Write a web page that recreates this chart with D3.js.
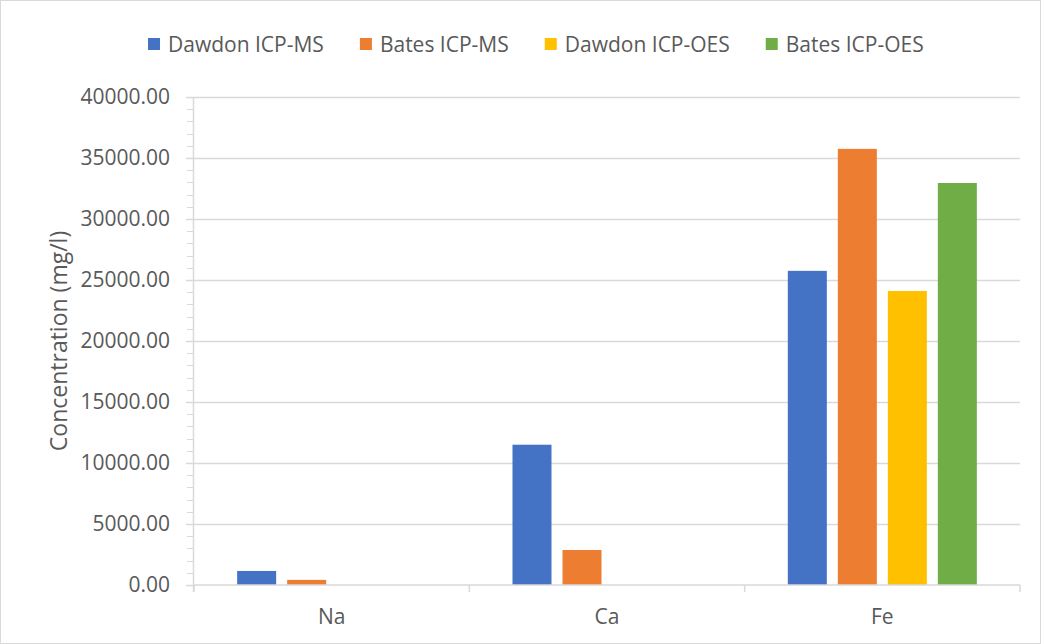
<!DOCTYPE html>
<html>
<head>
<meta charset="utf-8">
<script src="https://cdn.jsdelivr.net/npm/d3@7"></script>
<style>
  html, body { margin: 0; padding: 0; background: #fff; }
  svg { display: block; }
</style>
</head>
<body>
<div id="chart"></div>
<script>
const categories = ['Na', 'Ca', 'Fe'];
const seriesNames = ['Dawdon ICP-MS', 'Bates ICP-MS', 'Dawdon ICP-OES', 'Bates ICP-OES'];
const seriesColors = ['#4472c4', '#ed7d31', '#ffc000', '#70ad47'];
const dawdonMS = [1150, 11500, 25750];
const batesMS = [420, 2870, 35750];
const dawdonOES = [0, 0, 24100];
const batesOES = [0, 0, 32950];
const yTicks = [0, 5000, 10000, 15000, 20000, 25000, 30000, 35000, 40000];

const W = 1041, H = 644;
const M = { top: 97, right: 21, bottom: 59, left: 194 };
const FONT = '"Open Sans", sans-serif';
const TEXT = '#595959';
const GRID = '#d9d9d9';

const series = [dawdonMS, batesMS, dawdonOES, batesOES];

const svg = d3.select('#chart').append('svg')
  .attr('width', W).attr('height', H)
  .style('font-family', FONT);

svg.append('rect')
  .attr('x', 0.5).attr('y', 0.5).attr('width', W - 1).attr('height', H - 1)
  .attr('fill', '#fff').attr('stroke', '#d9d9d9');

const innerW = W - M.left - M.right;
const innerH = H - M.top - M.bottom;
const g = svg.append('g').attr('transform', `translate(${M.left},${M.top})`);

const y = d3.scaleLinear().domain([0, 40000]).range([innerH, 0]);
const x0 = d3.scaleBand().domain(categories).range([0, innerW]);
const x1 = d3.scaleBand().domain(d3.range(seriesNames.length))
  .range([0, x0.bandwidth()]).paddingInner(0.22).paddingOuter(0.863);

// gridlines
g.append('g').selectAll('line').data(yTicks.slice(1)).join('line')
  .attr('x1', 0).attr('x2', innerW)
  .attr('y1', d => Math.round(y(d)) + 0.5).attr('y2', d => Math.round(y(d)) + 0.5)
  .attr('stroke', GRID).attr('stroke-width', 1.5);

// minor ticks on y axis
const minor = d3.range(0, 40001, 1000).filter(v => v % 5000 !== 0);
g.append('g').selectAll('line').data(minor).join('line')
  .attr('x1', -7).attr('x2', 0)
  .attr('y1', d => Math.round(y(d)) + 0.5).attr('y2', d => Math.round(y(d)) + 0.5)
  .attr('stroke', GRID).attr('stroke-width', 1);

// y axis
const yAxis = g.append('g')
  .call(d3.axisLeft(y).tickValues(yTicks).tickFormat(d3.format('.2f')).tickSize(8).tickPadding(16));
yAxis.select('.domain').attr('stroke', GRID).attr('stroke-width', 1.5).attr('d', `M-0.5,${innerH + 7}V0`);
yAxis.selectAll('.tick line').attr('stroke', GRID).attr('stroke-width', 1.5);
yAxis.selectAll('.tick text').attr('fill', TEXT).style('font-size', '21px').style('font-family', FONT);

// bars
categories.forEach((c, ci) => {
  series.forEach((s, si) => {
    if (!s[ci]) return;
    g.append('rect')
      .attr('x', x0(c) + x1(si))
      .attr('y', y(s[ci]))
      .attr('width', x1.bandwidth())
      .attr('height', innerH - y(s[ci]))
      .attr('fill', seriesColors[si]);
  });
});

// x axis
const xAxis = g.append('g').attr('transform', `translate(0,${innerH})`)
  .call(d3.axisBottom(x0).tickSize(0).tickPadding(24));
xAxis.select('.domain').attr('stroke', GRID).attr('stroke-width', 1.5).attr('d', `M0,0H${innerW}`);
xAxis.selectAll('.tick text').attr('fill', TEXT).style('font-size', '21px').style('font-family', FONT);
g.append('g').selectAll('line').data(d3.range(categories.length + 1)).join('line')
  .attr('x1', i => i * x0.bandwidth()).attr('x2', i => i * x0.bandwidth())
  .attr('y1', innerH).attr('y2', innerH + 7)
  .attr('stroke', GRID).attr('stroke-width', 1.5);

// y label
svg.append('text')
  .attr('transform', `translate(67,${M.top + innerH / 2}) rotate(-90)`)
  .attr('text-anchor', 'middle')
  .attr('fill', TEXT).style('font-size', '23px')
  .text('Concentration (mg/l)');

// legend
const legend = svg.append('g');
let lx = 148;
seriesNames.forEach((name, i) => {
  const item = legend.append('g').attr('transform', `translate(${lx},0)`);
  item.append('rect').attr('x', 0).attr('y', 38).attr('width', 12).attr('height', 12)
    .attr('fill', seriesColors[i]);
  const t = item.append('text').attr('x', 20).attr('y', 52)
    .attr('fill', TEXT).style('font-size', '21px').text(name);
  lx += 20 + t.node().getComputedTextLength() + 36;
});
</script>
</body>
</html>
